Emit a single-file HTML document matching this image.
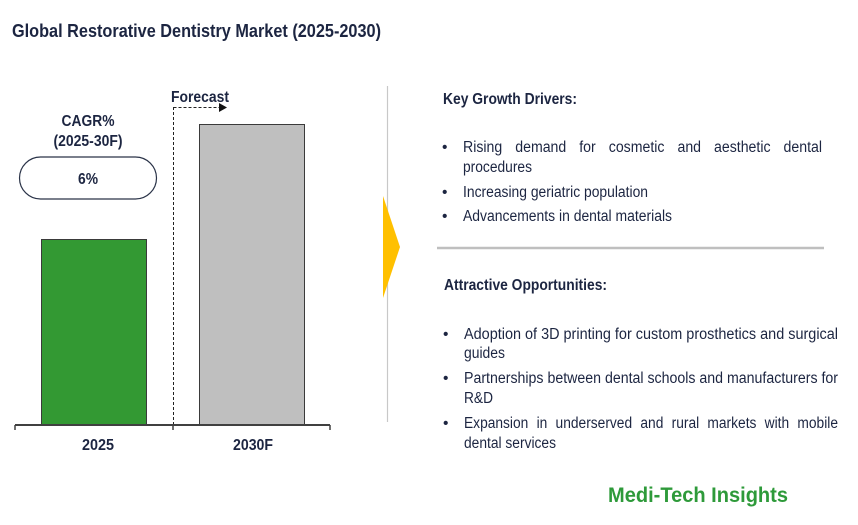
<!DOCTYPE html>
<html><head><meta charset="utf-8"><style>
html,body{margin:0;padding:0;background:#fff;width:858px;height:525px;overflow:hidden}
svg{display:block}
text{font-family:"Liberation Sans",Arial,sans-serif;fill:#1c2541}
.b{font-weight:bold}
</style></head><body>
<svg width="858" height="525" viewBox="0 0 858 525" xmlns="http://www.w3.org/2000/svg">
<text class="b" x="12" y="37" font-size="18.5" textLength="369" lengthAdjust="spacingAndGlyphs">Global Restorative Dentistry Market (2025-2030)</text>

<rect x="41.5" y="239.5" width="105" height="185" fill="#339933" stroke="#3a3a3a" stroke-width="1"/>
<rect x="199.5" y="124.5" width="105" height="300" fill="#bfbfbf" stroke="#3a3a3a" stroke-width="1"/>
<line x1="15" y1="425" x2="330" y2="425" stroke="#404040" stroke-width="2"/>
<line x1="15" y1="425" x2="15" y2="430" stroke="#404040" stroke-width="1.5"/>
<line x1="173" y1="425" x2="173" y2="430" stroke="#404040" stroke-width="1.5"/>
<line x1="330" y1="425" x2="330" y2="430" stroke="#404040" stroke-width="1.5"/>
<text class="b" x="98" y="450" font-size="16" text-anchor="middle" textLength="32" lengthAdjust="spacingAndGlyphs">2025</text>
<text class="b" x="253" y="450" font-size="16" text-anchor="middle" textLength="40" lengthAdjust="spacingAndGlyphs">2030F</text>

<line x1="173.5" y1="107" x2="173.5" y2="424" stroke="#222" stroke-width="1" stroke-dasharray="3,2"/>
<line x1="173.5" y1="107.5" x2="220" y2="107.5" stroke="#222" stroke-width="1" stroke-dasharray="3,2"/>
<polygon points="219,103 227,107.5 219,112" fill="#111"/>
<text class="b" x="171" y="102" font-size="16" textLength="58" lengthAdjust="spacingAndGlyphs">Forecast</text>

<text class="b" x="88" y="126" font-size="16" text-anchor="middle" textLength="53" lengthAdjust="spacingAndGlyphs">CAGR%</text>
<text class="b" x="88" y="146" font-size="16" text-anchor="middle" textLength="69" lengthAdjust="spacingAndGlyphs">(2025-30F)</text>
<rect x="19.5" y="157" width="137" height="42" rx="21" fill="#fff" stroke="#2a3348" stroke-width="1.2"/>
<text class="b" x="88" y="184" font-size="16" text-anchor="middle" textLength="20" lengthAdjust="spacingAndGlyphs">6%</text>

<line x1="387.5" y1="86" x2="387.5" y2="422" stroke="#c8c8c8" stroke-width="1.2"/>
<polygon points="383,196 400,247 383,298" fill="#ffc000"/>

<g font-size="15.5">
<text class="b" x="443" y="104" textLength="134" lengthAdjust="spacingAndGlyphs">Key Growth Drivers:</text>
<text x="442" y="152">•</text>
<text x="463" y="152" word-spacing="10" textLength="359" lengthAdjust="spacingAndGlyphs">Rising demand for cosmetic and aesthetic dental</text>
<text x="463" y="172" textLength="69" lengthAdjust="spacingAndGlyphs">procedures</text>
<text x="442" y="197">•</text>
<text x="463" y="197" textLength="185" lengthAdjust="spacingAndGlyphs">Increasing geriatric population</text>
<text x="442" y="221">•</text>
<text x="463" y="221" textLength="209" lengthAdjust="spacingAndGlyphs">Advancements in dental materials</text>
</g>
<line x1="437" y1="248" x2="824" y2="248" stroke="#bfbfbf" stroke-width="2.5"/>
<g font-size="15.5">
<text class="b" x="444" y="290" textLength="163" lengthAdjust="spacingAndGlyphs">Attractive Opportunities:</text>
<text x="443" y="339">•</text>
<text x="464" y="339" textLength="374" lengthAdjust="spacingAndGlyphs">Adoption of 3D printing for custom prosthetics and surgical</text>
<text x="464" y="358" textLength="41" lengthAdjust="spacingAndGlyphs">guides</text>
<text x="443" y="383">•</text>
<text x="464" y="383" textLength="374" lengthAdjust="spacingAndGlyphs">Partnerships between dental schools and manufacturers for</text>
<text x="464" y="403" textLength="29" lengthAdjust="spacingAndGlyphs">R&amp;D</text>
<text x="443" y="428">•</text>
<text x="464" y="428" word-spacing="5" textLength="374" lengthAdjust="spacingAndGlyphs">Expansion in underserved and rural markets with mobile</text>
<text x="464" y="448" textLength="92" lengthAdjust="spacingAndGlyphs">dental services</text>
</g>

<text class="b" x="608" y="502" font-size="21" textLength="180" lengthAdjust="spacingAndGlyphs" style="fill:#2e9a3a">Medi-Tech Insights</text>
</svg>
</body></html>
